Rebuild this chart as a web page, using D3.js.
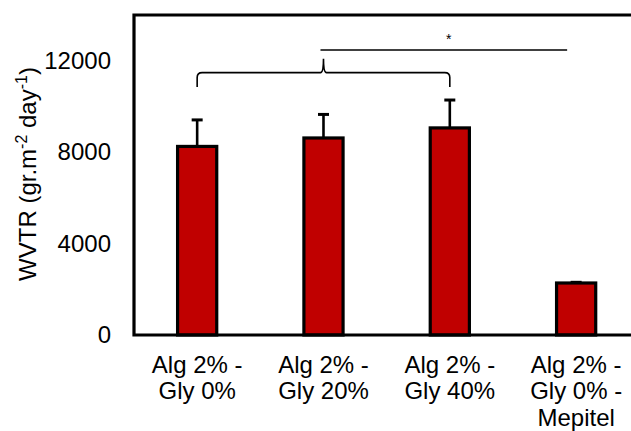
<!DOCTYPE html>
<html>
<head>
<meta charset="utf-8">
<script src="https://cdn.jsdelivr.net/npm/d3@7"></script>
<style>
  html, body { margin: 0; padding: 0; background: #fff; }
  svg { display: block; }
  text { font-family: "Liberation Sans", Arial, sans-serif; fill: #000; }
</style>
</head>
<body>
<svg id="chart" width="631" height="431"></svg>
<script>
// WVTR of alginate films by glycerol content, with the Mepitel reference
const categories = [
  ["Alg 2% -", "Gly 0%"],
  ["Alg 2% -", "Gly 20%"],
  ["Alg 2% -", "Gly 40%"],
  ["Alg 2% -", "Gly 0% -", "Mepitel"]
];
const wvtr = [8250, 8620, 9060, 2275];
const wvtrErr = [1160, 1030, 1220, 30];
const yTicks = [0, 4000, 8000, 12000];
const yMax = 14000;

// brace grouping the first three films, and the significance bar above it
const braceFrom = 0, braceTo = 2;
const braceLevel = 11480, braceTip = 12090, braceFoot = 10850;
const sigLevel = 12470, sigLabel = "*", sigLabelLevel = 13050;

const svg = d3.select("#chart");
const plotLeft = 134, plotTop = 15, plotBottom = 335, plotRight = 639.3;
const fontSize = 24;

const x = d3.scaleBand()
  .domain(d3.range(categories.length))
  .range([plotLeft, plotRight])
  .paddingInner(0.69)
  .paddingOuter(0.345);

const y = d3.scaleLinear().domain([0, yMax]).range([plotBottom, plotTop]);

// y axis labels
const yAxis = d3.axisLeft(y).tickValues(yTicks).tickSize(0).tickPadding(23)
  .tickFormat(d3.format("d"));
const gy = svg.append("g").attr("transform", `translate(${plotLeft},0)`).call(yAxis);
gy.select(".domain").remove();
gy.selectAll("text").attr("font-size", fontSize).attr("font-family", "Liberation Sans, Arial, sans-serif").attr("fill", "#000");

// bars
svg.append("g").selectAll("rect")
  .data(wvtr)
  .join("rect")
  .attr("x", (d, i) => x(i))
  .attr("y", d => y(d))
  .attr("width", x.bandwidth())
  .attr("height", d => y(0) - y(d))
  .attr("fill", "#c00000")
  .attr("stroke", "#000")
  .attr("stroke-width", 3.2);

// error bars (upper half)
const eg = svg.append("g").attr("stroke", "#000");
wvtr.forEach((d, i) => {
  const cx = x(i) + x.bandwidth() / 2;
  eg.append("line")
    .attr("x1", cx).attr("x2", cx)
    .attr("y1", y(d)).attr("y2", y(d + wvtrErr[i]))
    .attr("stroke-width", 2.6);
  eg.append("line")
    .attr("x1", cx - 5.5).attr("x2", cx + 5.5)
    .attr("y1", y(d + wvtrErr[i])).attr("y2", y(d + wvtrErr[i]))
    .attr("stroke-width", 3);
});

// frame: left, top and baseline
const frame = svg.append("g").attr("stroke", "#000").attr("stroke-width", 3.2).attr("fill", "none");
frame.append("path")
  .attr("d", `M${plotRight},${plotTop}H${plotLeft}V${plotBottom}H${plotRight}`)
  .attr("stroke-linecap", "square");

// curly brace
const bx0 = x(braceFrom) + x.bandwidth() / 2;
const bx1 = x(braceTo) + x.bandwidth() / 2;
const bm = (bx0 + bx1) / 2;
const yl = y(braceLevel), yt = y(braceTip), yf = y(braceFoot);
const r = 5;
svg.append("path")
  .attr("d",
    `M${bx0},${yf}` +
    `L${bx0},${yl + r}Q${bx0},${yl} ${bx0 + r},${yl}` +
    `L${bm - 3},${yl}Q${bm},${yl} ${bm},${yt}` +
    `Q${bm},${yl} ${bm + 3},${yl}` +
    `L${bx1 - r},${yl}Q${bx1},${yl} ${bx1},${yl + r}L${bx1},${yf}`)
  .attr("fill", "none")
  .attr("stroke", "#000")
  .attr("stroke-width", 1.6);

// significance line and label
svg.append("line")
  .attr("x1", bm - 3).attr("x2", x(3) + x.bandwidth() / 2 - 9)
  .attr("y1", y(sigLevel)).attr("y2", y(sigLevel))
  .attr("stroke", "#000").attr("stroke-width", 1.6);
svg.append("text")
  .attr("x", x(braceTo) + x.bandwidth() / 2 - 1)
  .attr("y", y(sigLabelLevel))
  .attr("text-anchor", "middle")
  .attr("dy", "0.5em")
  .attr("font-size", 14)
  .text(sigLabel);

// category labels
const xl = svg.append("g");
categories.forEach((lines, i) => {
  const t = xl.append("text")
    .attr("x", x(i) + x.bandwidth() / 2)
    .attr("y", 372.5)
    .attr("text-anchor", "middle")
    .attr("font-size", fontSize);
  lines.forEach((s, j) => {
    t.append("tspan")
      .attr("x", x(i) + x.bandwidth() / 2)
      .attr("dy", j === 0 ? 0 : 26.5)
      .text(s);
  });
});

// y axis title with superscripts
const ytitle = svg.append("text")
  .attr("transform", `translate(35.5,174) rotate(-90)`)
  .attr("text-anchor", "middle")
  .attr("font-size", fontSize);
ytitle.append("tspan").text("WVTR (gr.m");
ytitle.append("tspan").attr("font-size", 16).attr("dy", -8.5).text("-2");
ytitle.append("tspan").attr("dy", 8.5).text(" day");
ytitle.append("tspan").attr("font-size", 16).attr("dy", -8.5).text("-1");
ytitle.append("tspan").attr("dy", 8.5).text(")");
</script>
</body>
</html>
